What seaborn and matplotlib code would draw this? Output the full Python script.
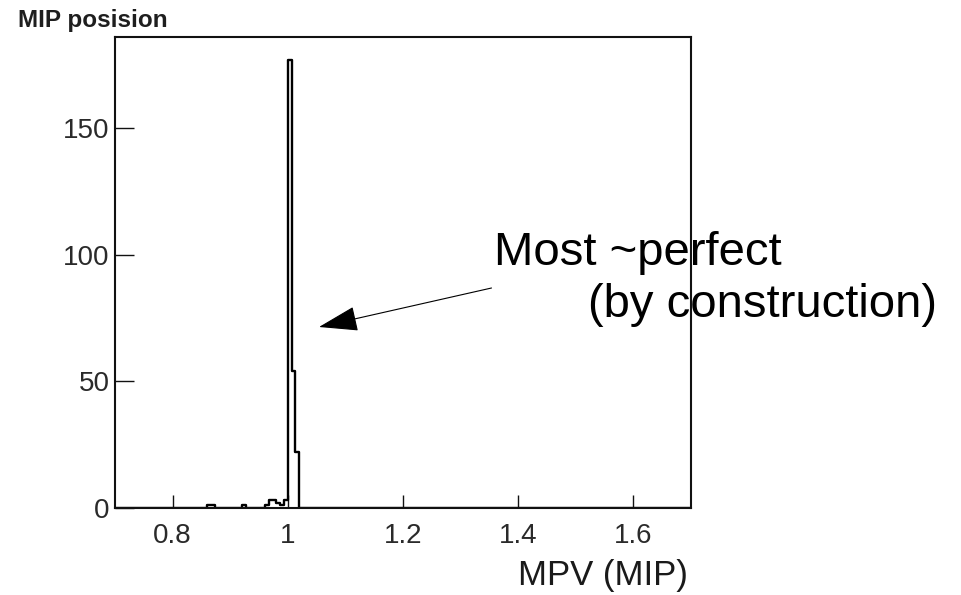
import numpy as np
import pandas as pd
import matplotlib
matplotlib.use("Agg")
import matplotlib.pyplot as plt
import seaborn as sns

# ---- data ----
mpv_centers = [0.8633, 0.8700, 0.9233, 0.9633, 0.9700, 0.9767, 0.9833, 0.9900,
               0.9967, 1.0033, 1.0100, 1.0167]
mpv_counts = [1, 1, 1, 1, 3, 3, 2, 1, 3, 177, 54, 22]
x_ticks = [0.8, 1.0, 1.2, 1.4, 1.6]
x_tick_labels = ["0.8", "1", "1.2", "1.4", "1.6"]
y_ticks = [0, 50, 100, 150]
title = "MIP posision"
x_label = "MPV (MIP)"
note_line1 = "Most ~perfect"
note_line2 = "(by construction)"

sns.set_style("ticks")
plt.rcParams["font.family"] = ["Liberation Sans", "DejaVu Sans"]

W, H = 961, 595
fig = plt.figure(figsize=(W / 100, H / 100), dpi=100)
ax = fig.add_axes([115 / W, 1 - 508 / H, 576 / W, 471 / H])

df = pd.DataFrame({"mpv": mpv_centers, "n": mpv_counts})
sns.histplot(data=df, x="mpv", weights="n", bins=150, binrange=(0.7, 1.7),
             element="step", fill=False, color="black", linewidth=1.7, ax=ax)

ax.set_xlim(0.7, 1.7)
ax.set_ylim(0, 186)
ax.set_xticks(x_ticks)
ax.set_xticklabels(x_tick_labels)
ax.set_yticks(y_ticks)
ax.set_ylabel("")
ax.set_xlabel(x_label, fontsize=25, color="#1a1a1a")
ax.xaxis.label.set_ha("right")
ax.xaxis.label.set_va("baseline")
ax.xaxis.set_label_coords((688 - 115) / 576, (508 - 585) / 471)

for sp in ax.spines.values():
    sp.set_visible(True)
    sp.set_linewidth(1.5)
    sp.set_color("#111111")

ax.tick_params(axis="x", direction="in", length=9.5, width=1.0, pad=11,
               labelsize=20, colors="#111111", labelcolor="#2a2a2a")
ax.tick_params(axis="y", direction="in", length=13.5, width=1.0, pad=4,
               labelsize=20, colors="#111111", labelcolor="#2a2a2a")

ax.set_title(title, loc="left", x=(18 - 115) / 576, y=(508 - 27) / 471,
             pad=0, fontsize=17.5, fontweight="bold", color="#1e1e1e")

# annotation text (behind the axes frame, as in the reference)
ax.text(494 / W, 1 - 265 / H, note_line1, transform=fig.transFigure,
        fontsize=34, color="black", ha="left", va="baseline",
        zorder=2, clip_on=False)
ax.text(588 / W, 1 - 317 / H, note_line2, transform=fig.transFigure,
        fontsize=34, color="black", ha="left", va="baseline",
        zorder=2, clip_on=False)

ax.annotate("", xy=(319, H - 327), xycoords="figure pixels",
            xytext=(491.5, H - 288), textcoords="figure pixels",
            arrowprops=dict(arrowstyle="-|>,head_length=2.5,head_width=0.8",
                            mutation_scale=10, color="black", lw=0.8,
                            shrinkA=0, shrinkB=0))

fig.savefig("out.png", dpi=100)
